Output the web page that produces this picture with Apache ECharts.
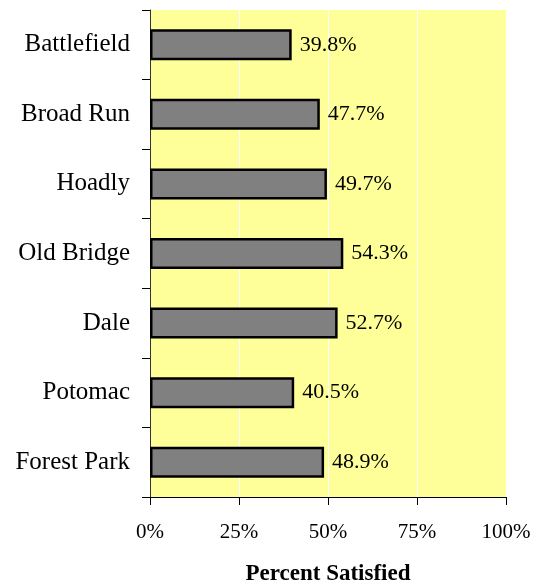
<!DOCTYPE html>
<html>
<head>
<meta charset="utf-8">
<script src="https://cdn.jsdelivr.net/npm/echarts@6/dist/echarts.min.js"></script>
<style>
  html, body { margin: 0; padding: 0; background: #ffffff; }
  #chart { width: 539px; height: 582px; }
</style>
</head>
<body>
<div id="chart"></div>
<script>
// Schools, listed top to bottom
const schools = ['Battlefield', 'Broad Run', 'Hoadly', 'Old Bridge', 'Dale', 'Potomac', 'Forest Park'];
// Share of respondents satisfied, in percent
const satisfied = [39.8, 47.7, 49.7, 54.3, 52.7, 40.5, 48.9];
// Axis tick values, in percent
const xTicks = [0, 25, 50, 75, 100];

const serif = '"Liberation Serif", "Times New Roman", serif';

const chart = echarts.init(document.getElementById('chart'), null, { renderer: 'canvas' });
chart.setOption({
  animation: false,
  grid: {
    left: 150, right: 33, top: 10, bottom: 85,
    containLabel: false, outerBoundsMode: 'none',
    show: true, backgroundColor: '#FFFF99', borderWidth: 0
  },
  xAxis: {
    type: 'value',
    min: xTicks[0], max: xTicks[xTicks.length - 1], interval: 25,
    name: 'Percent Satisfied',
    nameLocation: 'middle',
    nameGap: 66,
    nameTextStyle: { fontFamily: serif, fontSize: 23, fontWeight: 'bold', color: '#000' },
    axisLine: { show: true, lineStyle: { color: '#000', width: 1 } },
    axisTick: { show: true, length: 8, lineStyle: { color: '#000' } },
    axisLabel: {
      margin: 25, fontFamily: serif, fontSize: 21, color: '#000',
      formatter: v => v + '%'
    },
    splitLine: { show: true, lineStyle: { color: '#ffffff', width: 1 } }
  },
  yAxis: {
    type: 'category',
    data: schools,
    inverse: true,
    axisLine: { show: true, lineStyle: { color: '#333', width: 1 } },
    axisTick: { show: true, length: 8, inside: false, lineStyle: { color: '#000' } },
    axisLabel: { margin: 20, fontFamily: serif, fontSize: 25, color: '#000' },
    splitLine: { show: false }
  },
  series: [{
    type: 'bar',
    data: satisfied,
    barWidth: 31,
    itemStyle: { color: '#808080', borderColor: '#000', borderWidth: 2.5 },
    label: {
      show: true, position: 'right', distance: 8,
      fontFamily: serif, fontSize: 22, color: '#000',
      formatter: p => p.value.toFixed(1) + '%'
    }
  }]
});
</script>
</body>
</html>
